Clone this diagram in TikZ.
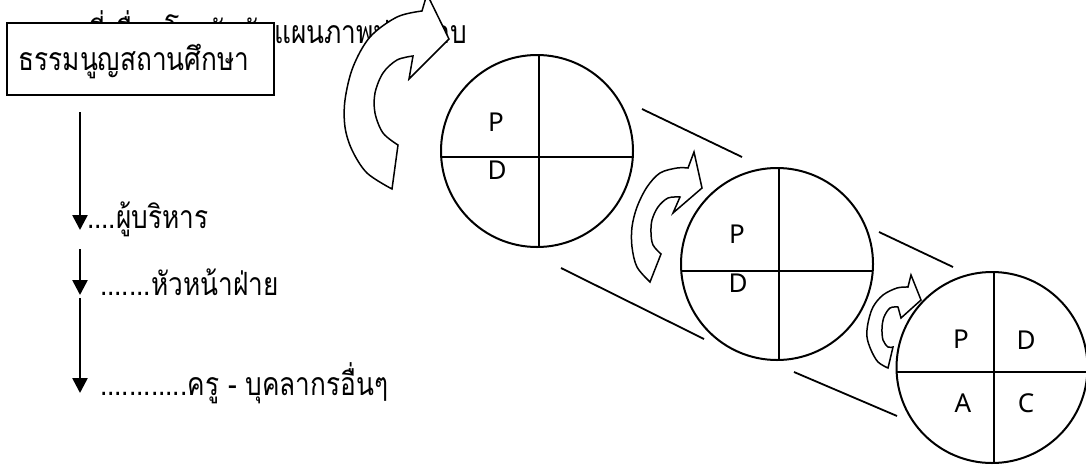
\documentclass[tikz,border=0pt]{standalone}
\usepackage{fontspec}
\setmainfont{Noto Sans}
\newfontfamily\thaifont[Script=Thai,FakeStretch=0.82]{Loma}
\usetikzlibrary{arrows.meta,calc}
\begin{document}
\begin{tikzpicture}[x=1pt,y=-1pt]
\tikzset{
 thtext/.style={font=\thaifont\fontsize{32}{36}\selectfont, inner sep=0, outer sep=0},
 lat/.style={font=\fontsize{26}{30}\selectfont, inner sep=0},
 ring/.style={circle, draw, line width=2pt, minimum size=192pt, inner sep=0},
 cross/.style={line width=2pt},
 tanline/.style={line width=1.8pt},
 curv/.style={draw, fill=white, line width=1.5pt, line join=miter},
 varrow/.style={line width=2.6pt, -{Triangle[width=15pt,length=15pt]}},
 titlebox/.style={draw, fill=white, line width=2pt, minimum width=267pt, minimum height=72pt, inner sep=0}
}
\useasboundingbox (0,0) rectangle (1086,464);
\clip (0,0) rectangle (1086,464);
\fill[white] (0,0) rectangle (1086,464);
% top text (partly hidden)
\node[thtext, anchor=base east] (top) at (467,43) {ที่เชื่อมโยงกันกับแผนภาพประกอบ};
% title box
\node[titlebox] (box) at (140.5,59) {};
\node[thtext, anchor=base] (boxtext) at (134,70) {ธรรมนูญสถานศึกษา};
% vertical arrows and labels
\coordinate (s1) at (80,112); \coordinate (e1) at (80,230);
\coordinate (s2) at (80,249); \coordinate (e2) at (80,295);
\coordinate (s3) at (80,298); \coordinate (e3) at (80,393);
\draw[varrow] (s1) -- (e1);
\draw[varrow] (s2) -- (e2);
\draw[varrow] (s3) -- (e3);
\node[thtext, anchor=base west] (l1) at (87,228) {....ผู้บริหาร};
\node[thtext, anchor=base west] (l2) at (100,295) {.......หัวหน้าฝ่าย};
\node[thtext, anchor=base west] (l3) at (100,395) {............ครู - บุคลากรอื่นๆ};
% tangent lines
\draw[tanline] (642,109) -- (742,157);
\draw[tanline] (561,268) -- (704,339);
\draw[tanline] (879,232) -- (953,267);
\draw[tanline] (794,372) -- (897,416);
% circles
\node[ring] (c1) at (537,151) {};
\draw[cross] (441,157) -- (633,157);
\draw[cross] (539,55) -- (539,247);
\node[lat] (p1) at (496,122) {P};
\node[lat] (d1) at (497,170) {D};
\node[ring] (c2) at (777,264) {};
\draw[cross] (681,271) -- (873,271);
\draw[cross] (779,168) -- (779,360);
\node[lat] (p2) at (737,234) {P};
\node[lat] (d2) at (738,283) {D};
\node[ring, minimum size=191pt] (c3) at (992,367.5) {};
\draw[cross] (897,372) -- (1087,372);
\draw[cross] (994,272) -- (994,464);
\node[lat] (p3) at (961,339) {P};
\node[lat] (d3) at (1026,340) {D};
\node[lat] (a3) at (963,403) {A};
\node[lat] (cc3) at (1026,403) {C};
% curved arrows
\draw[curv] plot[smooth, tension=0.55] coordinates {(392,189) (367,173) (352,150) (345,127) (345,100) (353,67) (370,37) (397,17) (422,11)} -- (427,-6) -- (449,39) -- (409,79) -- plot[smooth, tension=0.55] coordinates {(413,56) (397,60) (383,73) (375,93) (375,113) (383,133) (398,145)} -- cycle;
\draw[curv] plot[smooth, tension=0.55] coordinates {(650,282) (637,267) (632,247) (632,227) (637,207) (647,187) (660,173) (677,168) (688,168)} -- (694,152) -- (702,188) -- (673,213) -- plot[smooth, tension=0.55] coordinates {(680,197) (668,198) (658,207) (652,220) (651,233) (653,245) (661,254)} -- cycle;
\draw[curv] plot[smooth, tension=0.55] coordinates {(888,368) (878,362) (871,350) (867,337) (868,323) (873,307) (883,295) (897,288) (908,287)} -- (911,275) -- (921,300) -- (901,318) -- plot[smooth, tension=0.55] coordinates {(898,307) (890,308) (884,317) (882,328) (883,340) (888,347) (893,347)} -- cycle;
\end{tikzpicture}
\end{document}
